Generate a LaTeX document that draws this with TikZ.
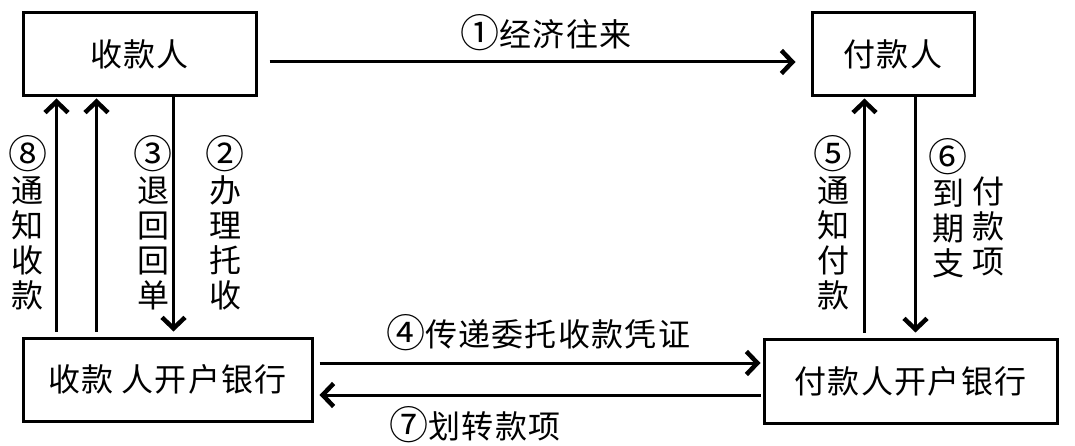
\documentclass[tikz,border=0pt]{standalone}
\usepackage{fontspec}
\usepackage{graphicx}
\setmainfont{Noto Sans CJK SC}
\newfontfamily\cjk[LetterSpace=4]{Noto Sans CJK SC}
\newcommand\cnum[1]{\raisebox{-0.04em}{\scalebox{1.22}{#1}}}
\usetikzlibrary{arrows.meta,calc}
\begin{document}
\begin{tikzpicture}[x=1pt,y=-1pt,
  box/.style={draw,line width=3pt,inner sep=0pt,font=\fontsize{32}{35}\selectfont\cjk},
  lbl/.style={inner sep=0pt,font=\fontsize{32}{35}\selectfont\cjk},
  vlbl/.style={inner sep=0pt,align=center,font=\fontsize{32}{35}\selectfont\cjk},
  arr/.style={line width=3pt,-{Straight Barb[length=11pt,width=23pt,line width=4.5pt]}}]
\useasboundingbox (0,0) rectangle (1075,446);
% boxes
\node[box,minimum width=233pt,minimum height=83pt] (pa) at (139.5,54.5) {收款人};
\node[box,minimum width=162pt,minimum height=83pt] (pb) at (893,54.5) {付款人};
\node[box,minimum width=289pt,minimum height=83pt] (ba) at (167.5,379.5) {收款\hspace{8pt}人开户银行};
\node[box,minimum width=293pt,minimum height=84pt] (bb) at (910.5,381) {付款人开户银行};
% horizontal arrows
\draw[arr] ($(pa.east)+(12,7.5)$) -- ($(pb.west)+(-15,7.5)$);
\draw[arr] ($(ba.east)+(6,-16.5)$) -- ($(bb.west)+(-2,-18)$);
\draw[arr] ($(bb.west)+(-2,14)$) -- ($(ba.east)+(6,15.5)$);
% vertical arrows left
\draw[arr] ($(ba.north west)+(35,-5)$) -- ($(pa.south west)+(35,1)$);
\draw[arr] ($(ba.north west)+(75,-5)$) -- ($(pa.south west)+(75,1)$);
\draw[arr] ($(pa.south west)+(152,0)$) -- ($(ba.north west)+(152,-5)$);
% vertical arrows right
\draw[arr] ($(bb.north west)+(102,-5)$) -- ($(pb.south west)+(54,1)$);
\draw[arr] ($(pb.south west)+(105,0)$) -- ($(bb.north west)+(153,-5)$);
% labels
\node[lbl] (l1) at (546,33) {\cnum{①}经济往来};
\node[lbl] (l4) at (538,333) {\cnum{④}传递委托收款凭证};
\node[lbl] (l7) at (475,425) {\cnum{⑦}划转款项};
\node[vlbl] (l8) at (28,222.5) {\cnum{⑧}\\通\\知\\收\\款};
\node[vlbl] (l3) at (153,222.5) {\cnum{③}\\退\\回\\回\\单};
\node[vlbl] (l2) at (225,222.5) {\cnum{②}\\办\\理\\托\\收};
\node[vlbl] (l5) at (833,222.5) {\cnum{⑤}\\通\\知\\付\\款};
\node[vlbl] (l6) at (948,208) {\cnum{⑥}\\到\\期\\支};
\node[vlbl] (l6b) at (988,226) {付\\款\\项};
\end{tikzpicture}
\end{document}
